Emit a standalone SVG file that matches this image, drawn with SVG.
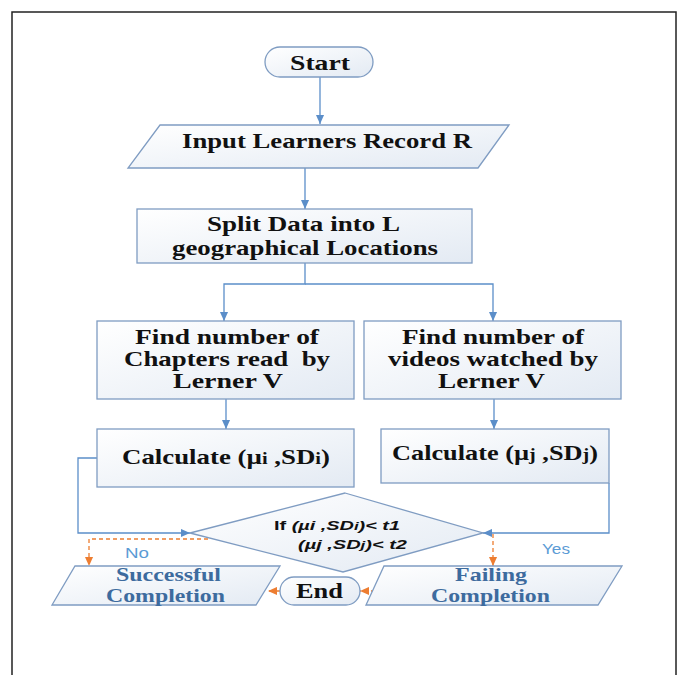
<svg xmlns="http://www.w3.org/2000/svg" width="689" height="675" viewBox="0 0 689 675">
<defs>
<linearGradient id="g" x1="0" y1="0" x2="1" y2="1">
<stop offset="0" stop-color="#ffffff"/>
<stop offset="1" stop-color="#e3eaf3"/>
</linearGradient>
<marker id="ab" markerUnits="userSpaceOnUse" markerWidth="9" markerHeight="9" viewBox="0 0 10 10" refX="10" refY="5" orient="auto">
<path d="M0,0.5 L10,5 L0,9.5 z" fill="#5b8ec9"/>
</marker>
<marker id="ao" markerUnits="userSpaceOnUse" markerWidth="9" markerHeight="9" viewBox="0 0 10 10" refX="10" refY="5" orient="auto">
<path d="M0,0.5 L10,5 L0,9.5 z" fill="#ed7d31"/>
</marker>
<style>
.s{fill:url(#g);stroke:#7f9cc2;stroke-width:1.3}
.t{font-family:"Liberation Serif","Times New Roman",serif;font-weight:bold;font-size:21px;fill:#111;white-space:pre}
.tb{font-family:"Liberation Serif","Times New Roman",serif;font-weight:bold;font-size:19px;fill:#3d6b9e}
.d{font-family:"Liberation Sans",Arial,sans-serif;font-weight:bold;font-style:italic;font-size:13px;fill:#111}
.l{font-family:"Liberation Sans",Arial,sans-serif;font-size:14px;fill:#5b9bd5}
.c{fill:none;stroke:#5b8ec9;stroke-width:1.3}
.o{fill:none;stroke:#ed7d31;stroke-width:1.3;stroke-dasharray:4 3}
</style>
</defs>
<rect x="12" y="12" width="664" height="690" fill="#fff" stroke="#222" stroke-width="1.5"/>

<g id="connectors">
<path class="c" d="M320,77 V124" marker-end="url(#ab)"/>
<path class="c" d="M305,168 V209" marker-end="url(#ab)"/>
<path class="c" d="M305,263 V284 H224 V321" marker-end="url(#ab)"/>
<path class="c" d="M305,284 H493 V321" marker-end="url(#ab)"/>
<path class="c" d="M226,399 V429" marker-end="url(#ab)"/>
<path class="c" d="M494,399 V429" marker-end="url(#ab)"/>
<path class="c" d="M97,458 H78 V533 H190" marker-end="url(#ab)"/>
<path class="c" d="M609,483 V533 H483" marker-end="url(#ab)"/>
<path class="o" d="M208,539 H89 V566" marker-end="url(#ao)"/>
<path class="o" d="M493,534 V566" marker-end="url(#ao)"/>
<path class="o" d="M280,591 H268" marker-end="url(#ao)"/>
<path class="o" d="M375,591 H360" marker-end="url(#ao)"/>
</g>

<g id="start">
<rect class="s" x="265" y="47" width="108" height="30" rx="15"/>
<text class="t" x="290" y="70" textLength="60" lengthAdjust="spacingAndGlyphs">Start</text>
</g>

<g id="input">
<polygon class="s" points="160,125 509,125 478,168 128,168"/>
<text class="t" x="182" y="148" textLength="290" lengthAdjust="spacingAndGlyphs">Input Learners Record R</text>
</g>

<g id="split">
<rect class="s" x="137" y="209" width="335" height="54"/>
<text class="t" x="207" y="231" font-size="20" textLength="193" lengthAdjust="spacingAndGlyphs">Split Data into L</text>
<text class="t" x="172" y="255" font-size="20" textLength="266" lengthAdjust="spacingAndGlyphs">geographical Locations</text>
</g>

<g id="chapters">
<rect class="s" x="97" y="321" width="257" height="78"/>
<text class="t" x="135" y="344" textLength="184" lengthAdjust="spacingAndGlyphs">Find number of</text>
<text class="t" x="124" y="366" textLength="206" lengthAdjust="spacingAndGlyphs">Chapters read  by</text>
<text class="t" x="173" y="388" textLength="110" lengthAdjust="spacingAndGlyphs">Lerner V</text>
</g>

<g id="videos">
<rect class="s" x="364" y="321" width="257" height="78"/>
<text class="t" x="402" y="344" textLength="182" lengthAdjust="spacingAndGlyphs">Find number of</text>
<text class="t" x="388" y="366" textLength="210" lengthAdjust="spacingAndGlyphs">videos watched by</text>
<text class="t" x="438" y="388" textLength="107" lengthAdjust="spacingAndGlyphs">Lerner V</text>
</g>

<g id="calc-i">
<rect class="s" x="97" y="429" width="257" height="58"/>
<text class="t" x="122" y="464" textLength="208" lengthAdjust="spacingAndGlyphs">Calculate (µ<tspan font-size="16">i</tspan> ,SD<tspan font-size="16">i</tspan>)</text>
</g>

<g id="calc-j">
<rect class="s" x="381" y="429" width="228" height="54"/>
<text class="t" x="392" y="460" textLength="206" lengthAdjust="spacingAndGlyphs">Calculate (µ<tspan font-size="16">j</tspan> ,SD<tspan font-size="16">j</tspan>)</text>
</g>

<g id="decision">
<polygon class="s" points="345,493 483,533 343,572 190,533"/>
<text class="d" x="274" y="530" textLength="126" lengthAdjust="spacingAndGlyphs"><tspan font-style="normal">If</tspan> (µi ,SD<tspan font-size="11">i</tspan>)&lt; t1</text>
<text class="d" x="298" y="549" textLength="109" lengthAdjust="spacingAndGlyphs">(µj ,SD<tspan font-size="11">j</tspan>)&lt; t2</text>
<text class="l" x="125" y="558" textLength="24" lengthAdjust="spacingAndGlyphs">No</text>
<text class="l" x="542" y="554" textLength="28" lengthAdjust="spacingAndGlyphs">Yes</text>
</g>

<g id="success">
<polygon class="s" points="75,566 280,566 256,605 52,605"/>
<text class="tb" x="116" y="581" textLength="105" lengthAdjust="spacingAndGlyphs">Successful</text>
<text class="tb" x="106" y="602" textLength="119" lengthAdjust="spacingAndGlyphs">Completion</text>
</g>

<g id="end">
<rect class="s" x="280" y="577" width="80" height="28" rx="14"/>
<text class="t" x="296" y="598" textLength="47" lengthAdjust="spacingAndGlyphs">End</text>
</g>

<g id="failing">
<polygon class="s" points="384,566 622,566 598,605 366,605"/>
<text class="tb" x="455" y="581" textLength="72" lengthAdjust="spacingAndGlyphs">Failing</text>
<text class="tb" x="431" y="602" textLength="119" lengthAdjust="spacingAndGlyphs">Completion</text>
</g>
</svg>
